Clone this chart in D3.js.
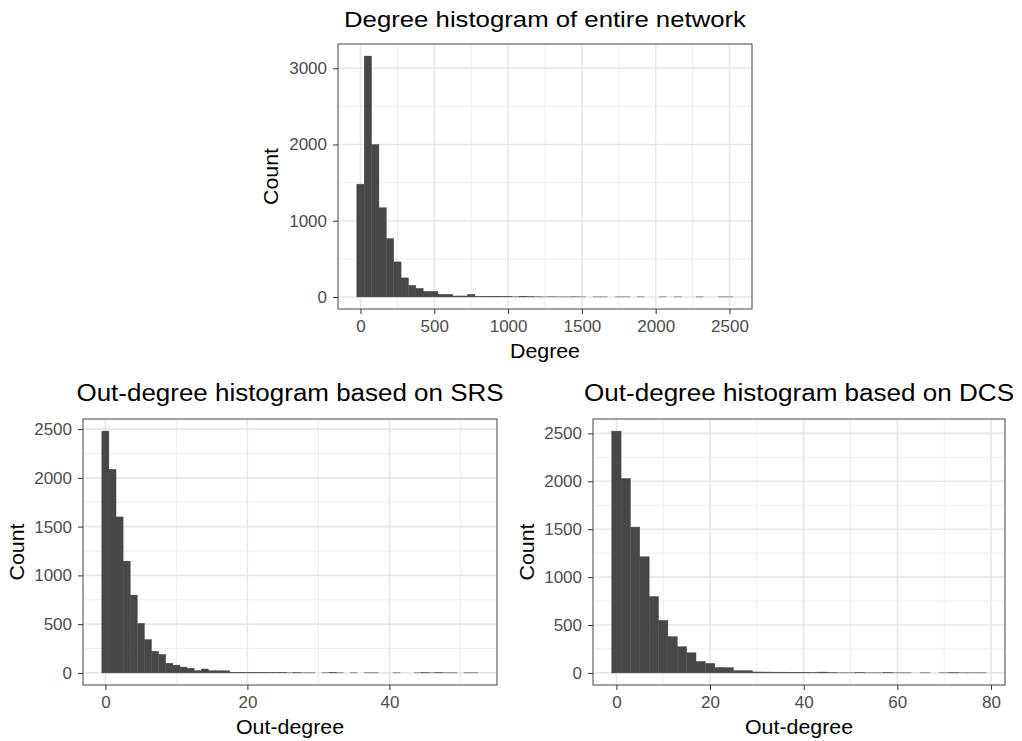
<!DOCTYPE html>
<html>
<head>
<meta charset="utf-8">
<script src="https://cdn.jsdelivr.net/npm/d3@7"></script>
<style>
  body { margin: 0; background: #fff; }
  svg text { font-family: "Liberation Sans", Arial, Helvetica, sans-serif; }
</style>
</head>
<body>
<div class="chart"></div>
<script>
// bin counts (bins centred on multiples of the bin width)
const degreeBinWidth = 50;
const degreeCounts = [1480, 3160, 2000, 1170, 766, 460, 250, 152, 113, 74, 74, 35, 35, 13, 13, 35,
    8, 8, 8, 8, 8, 2, 10, 3, 2, 1, 2, 1, 1, 2, 1, 0, 1, 1, 0, 1, 1, 0, 1, 0, 0, 1, 0, 1, 0, 0, 1, 0, 0, 1, 1];

const srsBinWidth = 1;
const srsCounts = [2480, 2088, 1600, 1146, 798, 508, 342, 222, 190, 99, 80, 60, 48, 24, 40, 22, 22, 22,
    6, 6, 5, 5, 5, 4, 4, 4, 1, 2, 1, 1, 0, 1, 6, 1, 0, 1, 0, 1, 1, 0, 0, 1, 0, 0, 1, 2, 1, 2, 1, 1, 0, 1, 1];

const dcsBinWidth = 2;
const dcsCounts = [2524, 2030, 1522, 1212, 797, 549, 379, 274, 210, 120, 100, 57, 55, 24, 24, 10, 9, 8, 8,
    7, 7, 3, 9, 2, 1, 1, 2, 1, 1, 3, 1, 1, 0, 1, 0, 1, 2, 1, 1, 1];

const degreeXTicks = [0, 500, 1000, 1500, 2000, 2500];
const degreeYTicks = [0, 1000, 2000, 3000];
const srsXTicks = [0, 20, 40];
const dcsXTicks = [0, 20, 40, 60, 80];
const outYTicks = [0, 500, 1000, 1500, 2000, 2500];

const svg = d3.select(".chart").append("svg")
    .attr("width", 1022)
    .attr("height", 741)
    .style("display", "block");

svg.append("rect").attr("width", 1022).attr("height", 741).attr("fill", "#fff");

function midpoints(ticks) {
    const out = [];
    for (let i = 0; i < ticks.length - 1; i++) out.push((ticks[i] + ticks[i + 1]) / 2);
    return out;
}

// the source text is a little wider than Liberation Sans, so stretch to the measured width
function stretched(sel, len) {
    return sel.attr("textLength", len).attr("lengthAdjust", "spacingAndGlyphs");
}

function drawHist(p) {
    const counts = p.counts;
    const bins = counts.map((c, i) => ({ x0: (i - 0.5) * p.binWidth, x1: (i + 0.5) * p.binWidth, n: c }));
    const lo = bins[0].x0, hi = bins[bins.length - 1].x1;
    const padX = (hi - lo) * 0.05;
    const maxN = d3.max(counts);

    const x = d3.scaleLinear().domain([lo - padX, hi + padX]).range([p.left, p.right]);
    const y = d3.scaleLinear().domain([-maxN * 0.05, maxN * 1.05]).range([p.bottom, p.top]);

    const g = svg.append("g");

    // minor + major grid
    const xStep = p.xTicks[1] - p.xTicks[0];
    const xMinor = midpoints([p.xTicks[0] - xStep].concat(p.xTicks, [p.xTicks[p.xTicks.length - 1] + xStep]))
        .filter(v => v > x.domain()[0] && v < x.domain()[1]);
    const yStep = p.yTicks[1] - p.yTicks[0];
    const yMinor = midpoints([p.yTicks[0] - yStep].concat(p.yTicks, [p.yTicks[p.yTicks.length - 1] + yStep]))
        .filter(v => v > y.domain()[0] && v < y.domain()[1]);

    g.selectAll(".xminor").data(xMinor).enter().append("line")
        .attr("x1", d => x(d)).attr("x2", d => x(d))
        .attr("y1", p.top).attr("y2", p.bottom)
        .attr("stroke", "#ececec").attr("stroke-width", 0.9);
    g.selectAll(".yminor").data(yMinor).enter().append("line")
        .attr("y1", d => y(d)).attr("y2", d => y(d))
        .attr("x1", p.left).attr("x2", p.right)
        .attr("stroke", "#ececec").attr("stroke-width", 0.9);
    g.selectAll(".xmajor").data(p.xTicks).enter().append("line")
        .attr("x1", d => x(d)).attr("x2", d => x(d))
        .attr("y1", p.top).attr("y2", p.bottom)
        .attr("stroke", "#e8e8e8").attr("stroke-width", 1.6);
    g.selectAll(".ymajor").data(p.yTicks).enter().append("line")
        .attr("y1", d => y(d)).attr("y2", d => y(d))
        .attr("x1", p.left).attr("x2", p.right)
        .attr("stroke", "#e8e8e8").attr("stroke-width", 1.6);

    // bars
    g.selectAll(".bar").data(bins.filter(b => b.n > 0)).enter().append("rect")
        .attr("x", d => x(d.x0))
        .attr("width", d => x(d.x1) - x(d.x0))
        .attr("y", d => y(d.n))
        .attr("height", d => y(0) - y(d.n))
        .attr("fill", "#474747")
        .attr("stroke", "#474747")
        .attr("stroke-width", 0.4);

    // panel border
    g.append("rect")
        .attr("x", p.left).attr("y", p.top)
        .attr("width", p.right - p.left).attr("height", p.bottom - p.top)
        .attr("fill", "none").attr("stroke", "#555").attr("stroke-width", 1.1);

    const xAxis = g.append("g")
        .attr("transform", `translate(0,${p.bottom})`)
        .call(d3.axisBottom(x).tickValues(p.xTicks).tickSize(5).tickPadding(6).tickFormat(d3.format("d")));
    const yAxis = g.append("g")
        .attr("transform", `translate(${p.left},0)`)
        .call(d3.axisLeft(y).tickValues(p.yTicks).tickSize(5).tickPadding(6).tickFormat(d3.format("d")));
    [xAxis, yAxis].forEach(a => {
        a.select(".domain").remove();
        a.selectAll(".tick line").attr("stroke", "#333").attr("stroke-width", 1);
        a.selectAll(".tick text").attr("fill", "#4d4d4d").style("font-size", "17px")
            .style("font-family", "'Liberation Sans', Arial, sans-serif");
    });

    stretched(g.append("text")
        .attr("x", (p.left + p.right) / 2).attr("y", p.titleY)
        .attr("text-anchor", "middle")
        .style("font-size", p.titleSize + "px")
        .attr("fill", "#000")
        .text(p.title), p.titleLen);

    stretched(g.append("text")
        .attr("x", (p.left + p.right) / 2).attr("y", p.bottom + 48.5)
        .attr("text-anchor", "middle")
        .style("font-size", "20px")
        .text(p.xLabel), p.xLabelLen);

    stretched(g.append("text")
        .attr("transform", `translate(${p.yLabelX},${(p.top + p.bottom) / 2}) rotate(-90)`)
        .attr("text-anchor", "middle")
        .style("font-size", "20px")
        .text("Count"), 57);
}

drawHist({
    counts: degreeCounts, binWidth: degreeBinWidth,
    left: 338, right: 752, top: 44, bottom: 309,
    xTicks: degreeXTicks, yTicks: degreeYTicks,
    title: "Degree histogram of entire network", titleY: 27, titleSize: 22, titleLen: 402,
    xLabel: "Degree", xLabelLen: 70, yLabelX: 278
});

drawHist({
    counts: srsCounts, binWidth: srsBinWidth,
    left: 83, right: 497, top: 419, bottom: 685,
    xTicks: srsXTicks, yTicks: outYTicks,
    title: "Out-degree histogram based on SRS", titleY: 401, titleSize: 23, titleLen: 427,
    xLabel: "Out-degree", xLabelLen: 108, yLabelX: 24
});

drawHist({
    counts: dcsCounts, binWidth: dcsBinWidth,
    left: 593, right: 1005, top: 419, bottom: 685,
    xTicks: dcsXTicks, yTicks: outYTicks,
    title: "Out-degree histogram based on DCS", titleY: 401, titleSize: 23, titleLen: 430,
    xLabel: "Out-degree", xLabelLen: 108, yLabelX: 534
});
</script>
</body>
</html>
